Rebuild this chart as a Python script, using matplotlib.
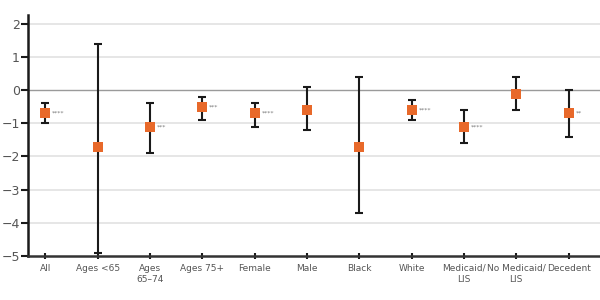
import matplotlib
matplotlib.use('Agg')
import matplotlib.pyplot as plt

# categories and estimates
labels = ['All', 'Ages <65', 'Ages\n65\u201374', 'Ages 75+', 'Female', 'Male',
          'Black', 'White', 'Medicaid/\nLIS', 'No Medicaid/\nLIS', 'Decedent']
est = [-0.7, -1.7, -1.1, -0.5, -0.7, -0.6, -1.7, -0.6, -1.1, -0.1, -0.7]
ci_lo = [-1.0, -4.9, -1.9, -0.9, -1.1, -1.2, -3.7, -0.9, -1.6, -0.6, -1.4]
ci_hi = [-0.4, 1.4, -0.4, -0.2, -0.4, 0.1, 0.4, -0.3, -0.6, 0.4, 0.0]
stars = ['****', '', '***', '***', '****', '', '', '****', '****', '', '**']

orange = '#e8692a'

fig, ax = plt.subplots(figsize=(6, 3), dpi=100)
fig.subplots_adjust(left=0.047, right=1.0, bottom=0.147, top=0.95)

x = list(range(len(labels)))
err_lo = [e - l for e, l in zip(est, ci_lo)]
err_hi = [h - e for e, h in zip(est, ci_hi)]

# gridlines
for yv in [2, 1, -1, -2, -3, -4]:
    ax.axhline(yv, color='#e2e2e2', lw=1.2, zorder=0)
ax.axhline(0, color='#9a9a9a', lw=1.0, zorder=0)

ax.errorbar(x, est, yerr=[err_lo, err_hi], fmt='none', ecolor='#1a1a1a',
            elinewidth=1.5, capsize=3, capthick=1.5, zorder=2)
ax.scatter(x, est, marker='s', s=55, color=orange, zorder=3, linewidths=0)

for xi, yi, s in zip(x, est, stars):
    if s:
        ax.text(xi + 0.13, yi, s, fontsize=4.5, color='#777777',
                va='center', ha='left')

ax.set_xlim(-0.33, 10.6)
ax.set_ylim(-5, 2.27)
ax.set_yticks([2, 1, 0, -1, -2, -3, -4, -5])
ax.set_yticklabels(['2', '1', '0', '\u22121', '\u22122', '\u22123', '\u22124', '\u22125'])
ax.set_xticks(x)
ax.set_xticklabels(labels, fontsize=6.5, color='#555555', linespacing=1.4)
ax.tick_params(axis='y', labelsize=9, colors='#555555', direction='out',
               length=5, width=1.5, pad=1)
ax.tick_params(axis='y', color='#1a1a1a')
ax.tick_params(axis='x', direction='inout', length=5, width=1.5,
               color='#1a1a1a', pad=3)

for side in ['top', 'right']:
    ax.spines[side].set_visible(False)
ax.spines['left'].set_linewidth(1.8)
ax.spines['left'].set_color('#1a1a1a')
ax.spines['bottom'].set_linewidth(1.8)
ax.spines['bottom'].set_color('#333333')

fig.savefig('out.png', dpi=100)
